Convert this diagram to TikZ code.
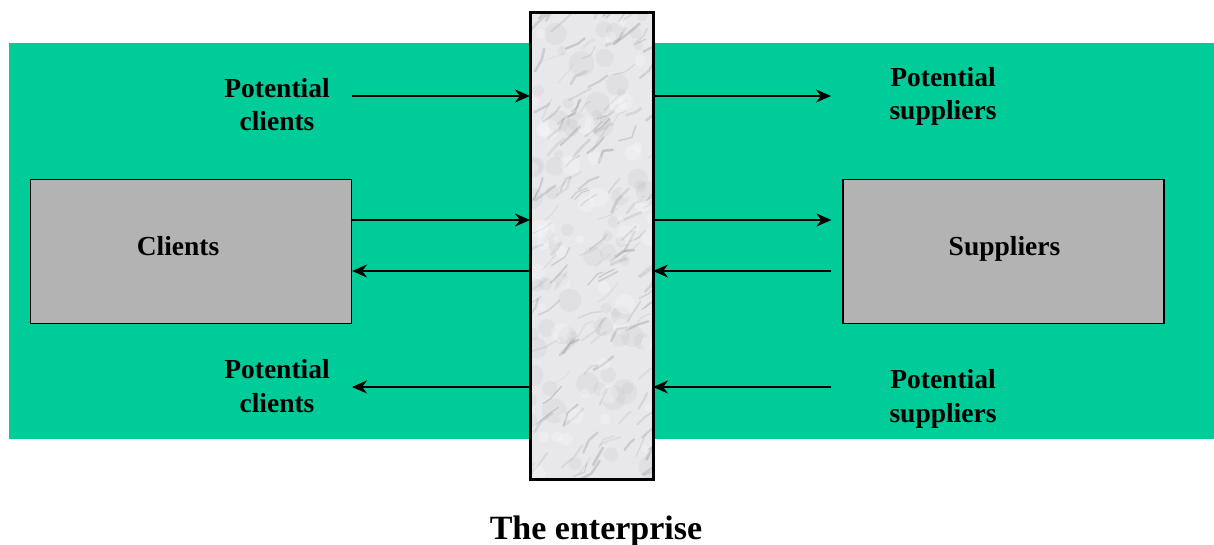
\documentclass[tikz,border=0pt]{standalone}
\usepackage{fontspec}
\setmainfont{Liberation Serif}
\usetikzlibrary{arrows.meta}
\definecolor{band}{HTML}{00CC99}
\definecolor{boxgray}{HTML}{B3B3B3}
\definecolor{marble}{HTML}{E8E8EB}
\definecolor{vein}{HTML}{8A8A90}
\begin{document}
\begin{tikzpicture}[x=1pt,y=-1pt,
  lbl/.style={font=\fontsize{27.5}{33.5}\selectfont\bfseries, align=center, inner sep=0pt},
  party/.style={draw=black, line width=1.2pt, fill=boxgray, minimum width=321pt, minimum height=144pt, inner sep=0pt},
  flow/.style={line width=1.5pt, -{Stealth[length=15pt,width=13pt]}}
]
\useasboundingbox (0,0) rectangle (1214,545);

% green market band
\fill[band] (9,43) rectangle (1214,439);

% client and supplier boxes
\node[party] (clients) at (191,251.5) {};
\node[party] (suppliers) at (1003.5,251.5) {};
\node[lbl, anchor=base] (clientsname) at (178,255) {Clients};
\node[lbl, anchor=base] (suppliersname) at (1004.5,255) {Suppliers};

% the enterprise: a marble wall
\node[fill=marble, line width=3pt, minimum width=120pt, minimum height=463pt, inner sep=0pt] (ent) at (591.5,246) {};
\begin{scope}
  \clip (ent.south west) rectangle (ent.north east);
  \pgfmathsetseed{11}
  % soft grey clouding
  \foreach \i in {1,...,70} {
    \pgfmathsetmacro\xa{530+rnd*123}
    \pgfmathsetmacro\ya{13+rnd*466}
    \pgfmathsetmacro\r{4+rnd*9}
    \fill[vein, opacity=0.08] (\xa,\ya) circle (\r pt);
  }
  % veins running up to the right
  \foreach \i in {1,...,150} {
    \pgfmathsetmacro\xa{525+rnd*130}
    \pgfmathsetmacro\ya{10+rnd*470}
    \pgfmathsetmacro\dxa{4+rnd*10}
    \pgfmathsetmacro\dya{-(3+rnd*10)}
    \pgfmathsetmacro\dxb{2+rnd*10}
    \pgfmathsetmacro\dyb{-(1+rnd*12)}
    \pgfmathsetmacro\lw{0.8+rnd*2}
    \pgfmathsetmacro\op{0.1+rnd*0.25}
    \draw[vein, line width=\lw pt, opacity=\op, line cap=round, line join=round]
      (\xa,\ya) -- ++(\dxa,\dya) -- ++(\dxb,\dyb);
  }
  % pale highlights
  \foreach \i in {1,...,50} {
    \pgfmathsetmacro\xa{530+rnd*123}
    \pgfmathsetmacro\ya{13+rnd*466}
    \pgfmathsetmacro\r{3+rnd*7}
    \fill[white, opacity=0.25] (\xa,\ya) circle (\r pt);
  }
\end{scope}
\draw[line width=3pt] (ent.south west) rectangle (ent.north east);

% labels of the potential partners
\node[lbl] (pclientstop) at (277,104.5) {Potential\\clients};
\node[lbl] (pclientsbot) at (277,386) {Potential\\clients};
\node[lbl] (psupptop) at (943,96.5) {Potential\\suppliers};
\node[lbl] (psuppbot) at (943,399) {Potential\\suppliers};

% free ends of the flows
\coordinate (pcin) at (352,96);
\coordinate (psout) at (831,96);
\coordinate (pcout) at (352,387);
\coordinate (psin) at (831,387);
\coordinate (supin) at ([xshift=-11pt,yshift=31.5pt]suppliers.west);
\coordinate (supout) at ([xshift=-11pt,yshift=-19.5pt]suppliers.west);

% flows across the enterprise
\draw[flow] (pcin) -- (pcin -| ent.west);
\draw[flow] (ent.east |- psout) -- (psout);
\draw[flow] ([yshift=31.5pt]clients.east) -- ([yshift=31.5pt]clients.east -| ent.west);
\draw[flow] ([yshift=-19.5pt]clients.east -| ent.west) -- ([yshift=-19.5pt]clients.east);
\draw[flow] (ent.east |- supin) -- (supin);
\draw[flow] (supout) -- (supout -| ent.east);
\draw[flow] (pcout -| ent.west) -- (pcout);
\draw[flow] (psin) -- (psin -| ent.east);

% caption
\node[font=\fontsize{34}{40}\selectfont\bfseries, inner sep=0pt, anchor=base] (title) at (596,539) {The enterprise};
\end{tikzpicture}
\end{document}
